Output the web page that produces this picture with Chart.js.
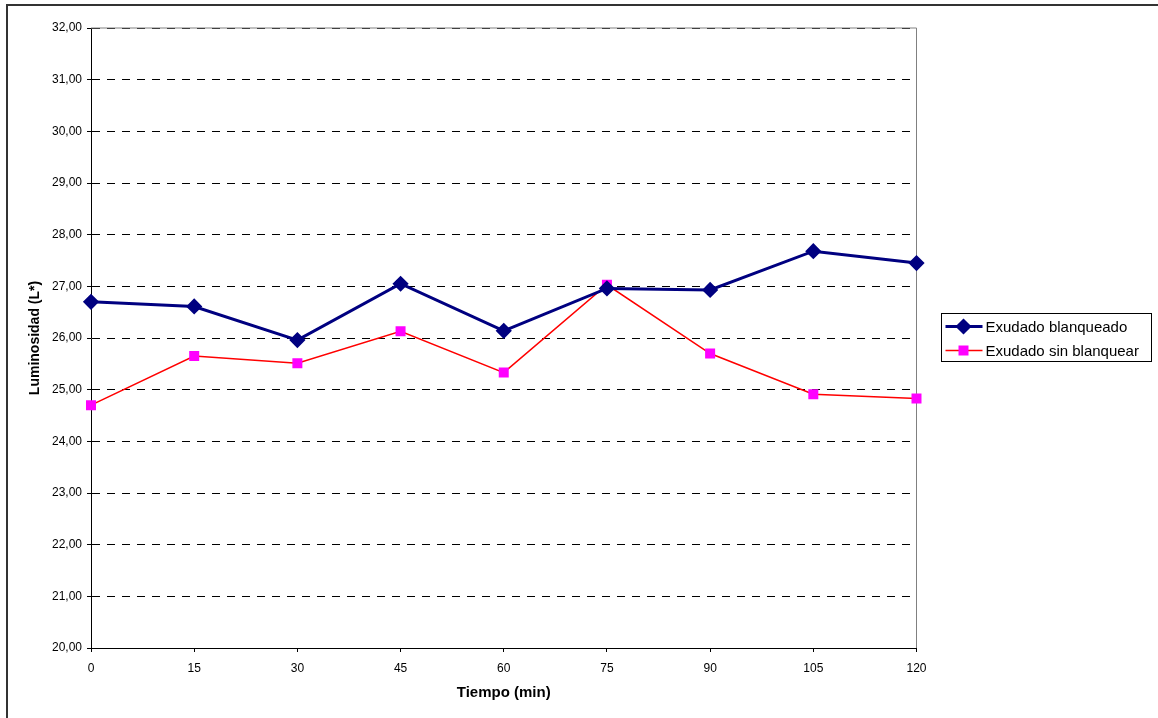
<!DOCTYPE html>
<html>
<head>
<meta charset="utf-8">
<script src="https://cdn.jsdelivr.net/npm/chart.js@4"></script>
<style>
  html, body { margin: 0; padding: 0; background: #fff; }
  #wrap { width: 1158px; height: 718px; position: relative; }
</style>
</head>
<body>
<div id="wrap"><canvas id="chartL"></canvas></div>
<script>
// tiempos de medida (min) y luminosidad L* de cada exudado
const tiempos = ['0', '15', '30', '45', '60', '75', '90', '105', '120'];
const blanqueado = [26.70, 26.61, 25.96, 27.05, 26.14, 26.96, 26.93, 27.68, 27.45];
const sinBlanquear = [24.70, 25.65, 25.51, 26.13, 25.33, 27.03, 25.70, 24.91, 24.83];
const yMin = 20;
const yMax = 32;

const FONT = 'Arial, "Liberation Sans", sans-serif';

// marco exterior, borde gris del área de trazado y leyenda a la derecha
const extras = {
    id: 'extras',
    beforeDraw(chart) {
        const ctx = chart.ctx;
        ctx.save();
        ctx.fillStyle = '#fff';
        ctx.fillRect(0, 0, chart.width, chart.height);
        ctx.strokeStyle = '#333';
        ctx.lineWidth = 2;
        ctx.strokeRect(7, 5, 1300, 900);
        ctx.restore();
    },
    beforeDatasetsDraw(chart) {
        const { ctx, chartArea: a } = chart;
        ctx.save();
        ctx.strokeStyle = '#808080';
        ctx.lineWidth = 1;
        ctx.beginPath();
        ctx.moveTo(a.left, a.top);
        ctx.lineTo(a.right, a.top);
        ctx.lineTo(a.right, a.bottom);
        ctx.stroke();
        ctx.restore();
    },
    afterDraw(chart) {
        const ctx = chart.ctx;
        const bx = 941.5, by = 313.5, bw = 210, bh = 48;
        ctx.save();
        ctx.strokeStyle = '#000';
        ctx.lineWidth = 1;
        ctx.strokeRect(bx, by, bw, bh);
        ctx.font = '15px ' + FONT;
        ctx.textBaseline = 'middle';
        ctx.fillStyle = '#000';
        chart.data.datasets.forEach((ds, i) => {
            const y = by + 13 + i * 24;
            ctx.strokeStyle = ds.borderColor;
            ctx.lineWidth = ds.borderWidth;
            ctx.beginPath();
            ctx.moveTo(bx + 4, y);
            ctx.lineTo(bx + 41, y);
            ctx.stroke();
            ctx.fillStyle = ds.pointBackgroundColor;
            ctx.strokeStyle = ds.pointBorderColor;
            Chart.helpers.drawPoint(ctx, {
                pointStyle: ds.pointStyle,
                radius: ds.pointRadius,
                borderWidth: 1,
                rotation: 0
            }, bx + 22, y);
            ctx.fillStyle = '#000';
            ctx.fillText(ds.label, bx + 44, y + 1);
        });
        ctx.restore();
    }
};

const ctx = document.getElementById('chartL').getContext('2d');

const chart = new Chart(ctx, {
    type: 'line',
    data: {
        labels: tiempos,
        datasets: [{
            label: 'Exudado blanqueado',
            data: blanqueado,
            borderColor: '#000080',
            backgroundColor: '#000080',
            borderWidth: 3,
            pointStyle: 'rectRot',
            pointRadius: 6,
            pointBackgroundColor: '#000080',
            pointBorderColor: '#000080',
            tension: 0
        }, {
            label: 'Exudado sin blanquear',
            data: sinBlanquear,
            borderColor: '#ff0000',
            backgroundColor: '#ff00ff',
            borderWidth: 1.5,
            pointStyle: 'rect',
            pointRadius: 6,
            pointBackgroundColor: '#ff00ff',
            pointBorderColor: '#ff00ff',
            tension: 0
        }]
    },
    options: {
        responsive: true,
        maintainAspectRatio: false,
        animation: false,
        layout: {
            padding: { left: 8, top: 28, right: 241.5, bottom: 0 }
        },
        plugins: {
            legend: { display: false },
            tooltip: { enabled: false }
        },
        scales: {
            x: {
                offset: false,
                grid: {
                    offset: false,
                    drawOnChartArea: false,
                    drawTicks: true,
                    tickLength: 4,
                    tickColor: '#000'
                },
                border: { display: true, color: '#000', width: 1 },
                ticks: {
                    color: '#000',
                    padding: 9,
                    maxRotation: 0,
                    font: { family: FONT, size: 12 }
                },
                title: {
                    display: true,
                    text: 'Tiempo (min)',
                    color: '#000',
                    padding: { top: 0, bottom: 16 },
                    font: { family: FONT, size: 15, weight: 'bold' }
                },
                afterFit(scale) { scale.height = 70; }
            },
            y: {
                min: yMin,
                max: yMax,
                ticks: {
                    stepSize: 1,
                    color: '#000',
                    padding: 5,
                    font: { family: FONT, size: 12 },
                    callback: v => v.toFixed(2).replace('.', ',')
                },
                grid: {
                    color: '#000',
                    lineWidth: 1,
                    drawTicks: true,
                    tickLength: 4,
                    tickColor: '#000',
                    tickBorderDash: []
                },
                border: { display: true, color: '#000', width: 1, dash: [8, 7] },
                title: {
                    display: true,
                    text: 'Luminosidad (L*)',
                    color: '#000',
                    padding: { top: 19, bottom: 0 },
                    font: { family: FONT, size: 14, weight: 'bold' }
                },
                afterFit(scale) { scale.width = 83; }
            }
        }
    },
    plugins: [extras]
});
</script>
</body>
</html>
